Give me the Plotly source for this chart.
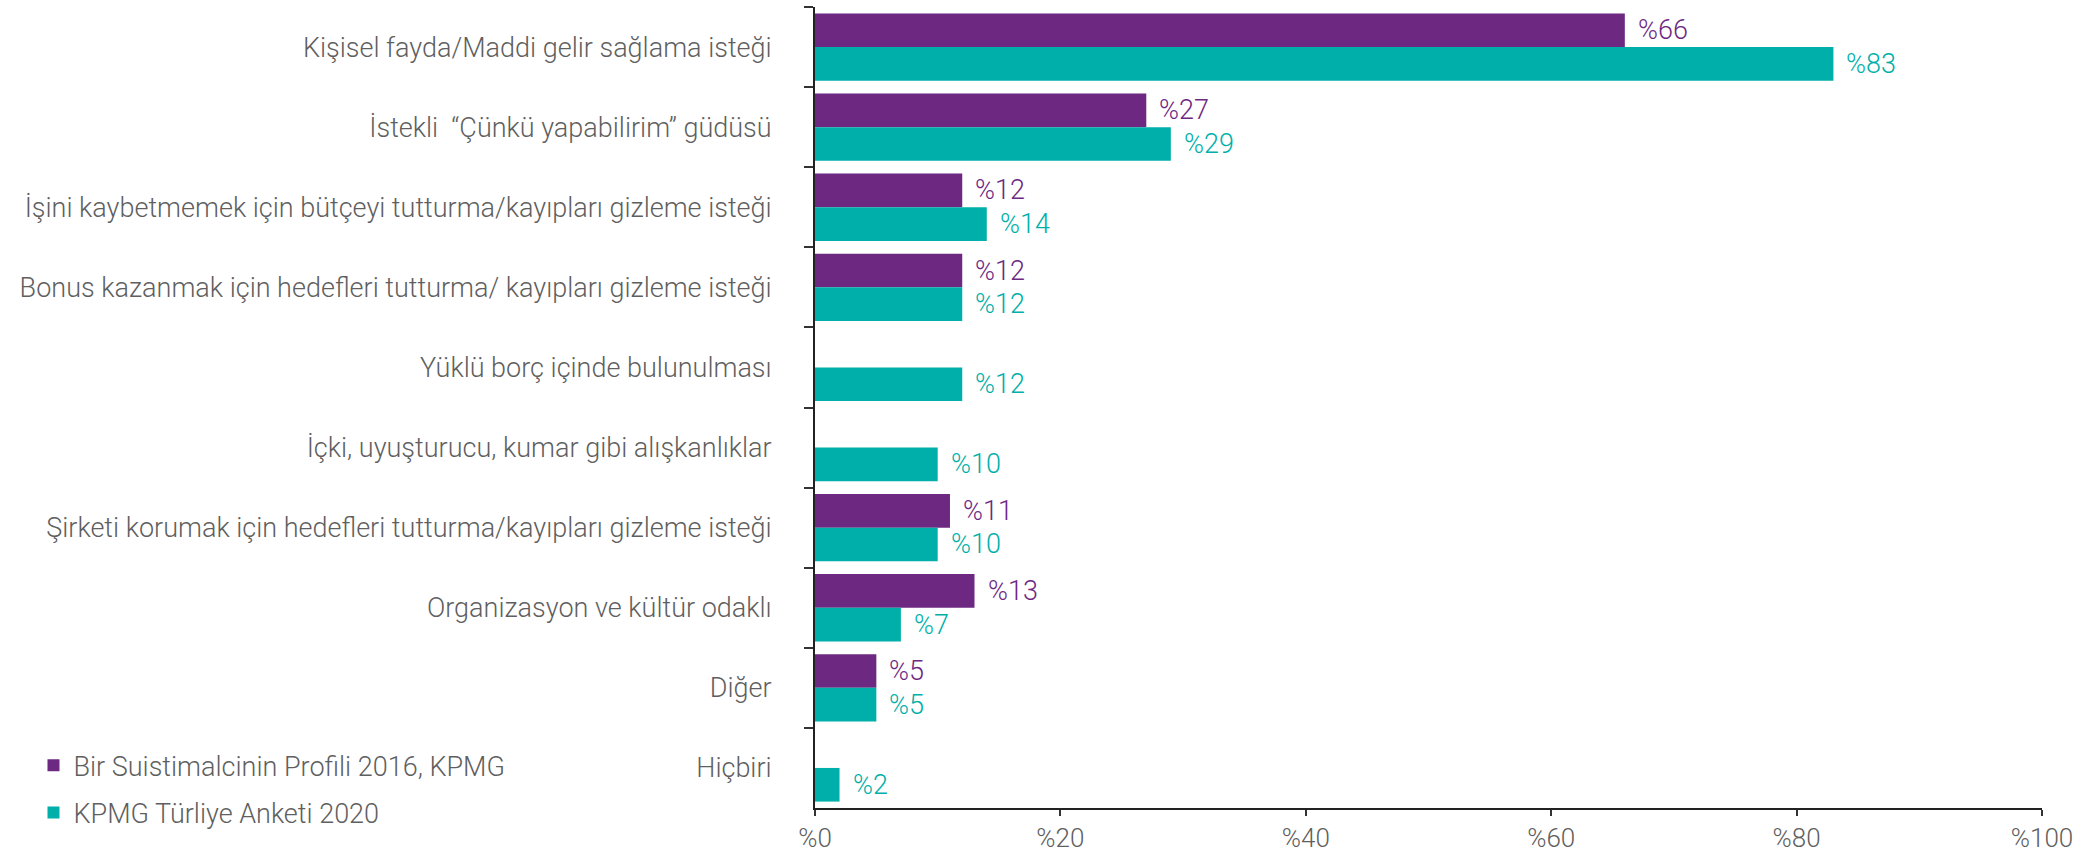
import plotly.graph_objects as go

# Motivations (top to bottom) and the share reported in each survey
categories = [
    "Kişisel fayda/Maddi gelir sağlama isteği",
    "İstekli  “Çünkü yapabilirim” güdüsü",
    "İşini kaybetmemek için bütçeyi tutturma/kayıpları gizleme isteği",
    "Bonus kazanmak için hedefleri tutturma/ kayıpları gizleme isteği",
    "Yüklü borç içinde bulunulması",
    "İçki, uyuşturucu, kumar gibi alışkanlıklar",
    "Şirketi korumak için hedefleri tutturma/kayıpları gizleme isteği",
    "Organizasyon ve kültür odaklı",
    "Diğer",
    "Hiçbiri",
]
profile_2016 = [66, 27, 12, 12, None, None, 11, 13, 5, None]
survey_2020 = [83, 29, 14, 12, 12, 10, 10, 7, 5, 2]

series_names = ["Bir Suistimalcinin Profili 2016, KPMG", "KPMG Türliye Anketi 2020"]
x_tick_values = [0, 20, 40, 60, 80, 100]
x_tick_labels = ["%0", "%20", "%40", "%60", "%80", "%100"]

PURPLE = "#6D2882"
TEAL = "#00AFA9"
TEXT = "#5f5f5f"
FONT = "Roboto"
FS = 27
BARGAP = 0.16

fig = go.Figure()
for name, vals, color in [(series_names[0], profile_2016, PURPLE),
                          (series_names[1], survey_2020, TEAL)]:
    fig.add_trace(go.Bar(
        y=categories, x=vals, orientation="h", name=name,
        marker=dict(color=color, line=dict(width=0)),
        legendgroup=name,
    ))

# value labels to the right of each bar
half = (1 - BARGAP) / 4
for vals, color, off in [(profile_2016, PURPLE, -half), (survey_2020, TEAL, half)]:
    for i, v in enumerate(vals):
        if v is None:
            continue
        fig.add_annotation(
            x=v, y=i + off, xref="x", yref="y", text=f"%{v}",
            showarrow=False, xanchor="left", yanchor="middle", xshift=11,
            font=dict(family=FONT, size=FS, color=color, weight=300),
        )

fig.update_layout(
    width=2093, height=854,
    margin=dict(l=815, r=51, t=7, b=46, autoexpand=False),
    paper_bgcolor="white", plot_bgcolor="white",
    barmode="group", bargap=BARGAP, bargroupgap=0,
    font=dict(family=FONT, size=FS, color=TEXT, weight=300),
    showlegend=True,
    legend=dict(
        xref="container", yref="container", x=0.016, y=0.132,
        xanchor="left", yanchor="top",
        traceorder="grouped", tracegroupgap=9,
        font=dict(family=FONT, size=FS, color=TEXT, weight=300),
        bgcolor="rgba(0,0,0,0)",
    ),
    xaxis=dict(
        range=[0, 100], tickvals=x_tick_values, ticktext=x_tick_labels,
        showgrid=False, zeroline=False, showline=True,
        linecolor="#222", linewidth=2,
        ticks="outside", ticklen=6, tickwidth=2, tickcolor="#333",
        tickfont=dict(family=FONT, size=26, color=TEXT, weight=300),
    ),
    yaxis=dict(
        type="category", autorange="reversed",
        showgrid=False, zeroline=False, showline=True,
        linecolor="#222", linewidth=2,
        ticks="outside", ticklen=9, tickwidth=2, tickcolor="#333",
        tickson="boundaries", ticklabelstandoff=36,
        tickfont=dict(family=FONT, size=FS, color=TEXT, weight=300),
    ),
)

fig.write_html("out.html")
